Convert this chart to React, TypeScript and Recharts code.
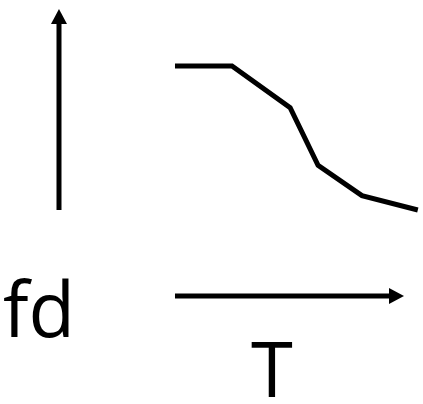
import React from 'react';
import { LineChart, Line, XAxis, YAxis, ReferenceLine, ReferenceDot } from 'recharts';

// curve: fd against T (schematic, arbitrary units)
const tValues = [0, 1, 2.02, 2.51, 3.28, 4.26];
const fdValues = [1, 1, 0.71, 0.31, 0.1, 0];

// axis arrows and labels, in the same units
const fdArrow = { t: -2.035, from: 0, to: 1.396 };
const tArrow = { fd: -0.597, from: 0, to: 4.018 };
const fdLabel = { t: -2.386, fd: -0.882, text: 'fd' };
const tLabel = { t: 1.702, fd: -1.3, text: 'T' };

const tDomain = [-3.07, 4.351];
const fdDomain = [-1.347, 1.458];

const data = tValues.map((t, i) => ({ t, fd: fdValues[i] }));

const FONT = '"Open Sans", "Noto Sans", sans-serif';

function Arrow(props: any) {
  const { x1, y1, x2, y2 } = props;
  const dx = x2 - x1;
  const dy = y2 - y1;
  const len = Math.sqrt(dx * dx + dy * dy) || 1;
  const ux = dx / len;
  const uy = dy / len;
  const head = 15;
  const half = 8;
  const bx = x2 - ux * head;
  const by = y2 - uy * head;
  const pts = [
    `${x2},${y2}`,
    `${bx - uy * half},${by + ux * half}`,
    `${bx + uy * half},${by - ux * half}`,
  ].join(' ');
  return (
    <g>
      <line x1={x1} y1={y1} x2={bx + ux * 2} y2={by + uy * 2} stroke="#000" strokeWidth={5} />
      <polygon points={pts} fill="#000" />
    </g>
  );
}

function bigLabel(text: string) {
  return (p: any) => {
    const vb = p.viewBox || {};
    const cx = (vb.x ?? 0) + (vb.width ?? 0) / 2;
    const cy = (vb.y ?? 0) + (vb.height ?? 0) / 2;
    return (
      <text x={cx} y={cy} textAnchor="middle" fontFamily={FONT} fontSize={76} fill="#000">
        {text}
      </text>
    );
  };
}

export default function App() {
  return (
    <div style={{ position: 'absolute', left: 0, top: 0, width: 423, height: 404, background: '#fff' }}>
      <LineChart width={423} height={404} data={data} margin={{ top: 0, right: 0, bottom: 0, left: 0 }}>
        <XAxis type="number" dataKey="t" domain={tDomain} hide allowDataOverflow />
        <YAxis type="number" domain={fdDomain} hide allowDataOverflow />
        <ReferenceLine
          segment={[
            { x: fdArrow.t, y: fdArrow.from },
            { x: fdArrow.t, y: fdArrow.to },
          ]}
          ifOverflow="visible"
          shape={Arrow}
        />
        <ReferenceLine
          segment={[
            { x: tArrow.from, y: tArrow.fd },
            { x: tArrow.to, y: tArrow.fd },
          ]}
          ifOverflow="visible"
          shape={Arrow}
        />
        <ReferenceDot
          x={fdLabel.t}
          y={fdLabel.fd}
          r={0}
          fill="none"
          stroke="none"
          ifOverflow="visible"
          label={{ content: bigLabel(fdLabel.text) }}
        />
        <ReferenceDot
          x={tLabel.t}
          y={tLabel.fd}
          r={0}
          fill="none"
          stroke="none"
          ifOverflow="visible"
          label={{ content: bigLabel(tLabel.text) }}
        />
        <Line
          type="linear"
          dataKey="fd"
          stroke="#000"
          strokeWidth={5}
          dot={false}
          activeDot={false}
          isAnimationActive={false}
        />
      </LineChart>
    </div>
  );
}
